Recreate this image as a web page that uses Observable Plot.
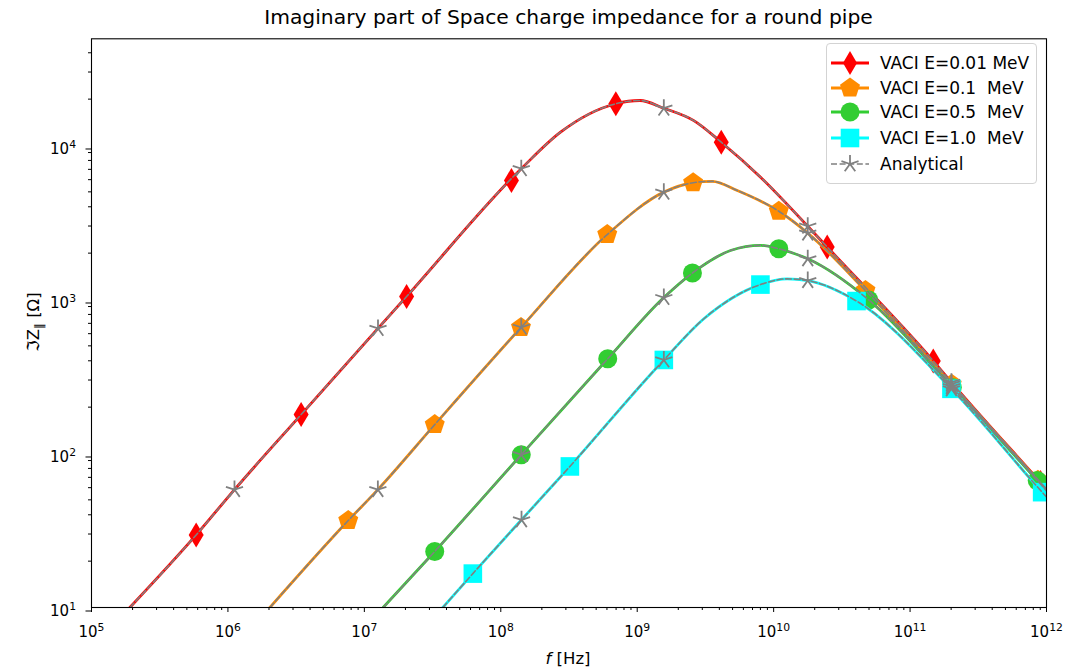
<!DOCTYPE html>
<html><head><meta charset="utf-8">
<script src="https://cdn.jsdelivr.net/npm/d3@7"></script>
<script src="https://cdn.jsdelivr.net/npm/@observablehq/plot@0.6"></script>
<style>
body{margin:0;background:#fff;font-family:"DejaVu Sans",sans-serif;color:#000;}
#wrap{position:relative;width:1066px;height:669px;overflow:hidden;}
#title{height:34px;line-height:34px;font-size:20.3px;text-align:center;padding-left:71px;box-sizing:border-box;width:1066px;white-space:nowrap;}
#xlabel{position:absolute;left:568px;top:658px;transform:translate(-50%,-50%);font-size:16.5px;white-space:nowrap;}
#ylabel{position:absolute;left:35px;top:322px;transform:translate(-50%,-50%) rotate(-90deg);font-size:16.5px;white-space:nowrap;}
#legend{position:absolute;left:826px;top:43px;width:211px;height:141px;box-sizing:border-box;border:1px solid #d3d3d3;border-radius:4px;background:rgba(255,255,255,0.85);}
.row{position:absolute;left:0;height:24px;width:209px;}
.row svg{position:absolute;left:4px;top:0;}
.row span{position:absolute;left:53px;top:0;line-height:24px;font-size:17px;white-space:pre;}
</style></head><body>
<div id="wrap">
<div id="title">Imaginary part of Space charge impedance for a round pipe</div>
<div id="chart"></div>
<div id="xlabel"><i>f</i> [Hz]</div>
<div id="ylabel">ℑZ<sub style="font-size:0.7em">∥</sub> [Ω]</div>
<div id="legend"></div>
</div>
<script>
// ---- data ----
const xTicks = [1e5, 1e6, 1e7, 1e8, 1e9, 1e10, 1e11, 1e12];
const yTicks = [1e1, 1e2, 1e3, 1e4];
const labels = ["VACI E=0.01 MeV", "VACI E=0.1  MeV", "VACI E=0.5  MeV", "VACI E=1.0  MeV", "Analytical"];
const colors = ["#ff0000", "#ff8c00", "#32cd32", "#00ffff", "#808080"];

// E = 0.01 MeV
const redLineF = [1.91e5, 5.85e5, 1.117e6, 3.44e6, 1.259e7, 2.04e7, 1.413e8, 2.74e8, 6.97e8, 1.047e9, 1.567e9, 2.60e9, 4.13e9, 8.02e9, 1.778e10, 2.47e10, 1.479e11, 2.01e11, 9.04e11, 1e12];
const redLineZ = [10, 29.6, 58.3, 179, 649, 1045, 7070, 12200, 18670, 19600, 17460, 14500, 10500, 6220, 2990, 2190, 399, 290, 64.9, 58.7];
const redMarkF = [5.85e5, 3.44e6, 2.04e7, 1.197e8, 6.97e8, 4.13e9, 2.47e10, 1.479e11, 9.04e11];
const redMarkZ = [29.6, 179, 1045, 5930, 18670, 10500, 2190, 399, 64.9];
const redStarF = [1.117e6, 1.259e7, 1.413e8, 1.567e9, 1.778e10, 2.01e11];
const redStarZ = [58.3, 649, 7070, 17460, 2990, 290];

// E = 0.1 MeV
const orangeLineF = [2.03e6, 7.62e6, 1.256e7, 3.28e7, 1.406e8, 6.03e8, 1.567e9, 2.57e9, 3.55e9, 5.41e9, 1.091e10, 1.778e10, 4.71e10, 2.01e11, 8.65e11, 1e12];
const orangeLineZ = [10, 36.7, 58.3, 154, 658, 2640, 4980, 5730, 5850, 5100, 3740, 2700, 1143, 282, 67, 58];
const orangeMarkF = [7.62e6, 3.28e7, 1.406e8, 6.03e8, 2.57e9, 1.091e10, 4.71e10, 2.02e11, 8.65e11];
const orangeMarkZ = [36.7, 154, 658, 2640, 5730, 3740, 1143, 282, 67];
const orangeStarF = [1.256e7, 1.413e8, 1.567e9, 1.778e10, 2.01e11];
const orangeStarZ = [58.3, 660, 4980, 2700, 282];

// E = 0.5 MeV
const greenLineF = [1.374e7, 3.28e7, 1.413e8, 6.08e8, 1.567e9, 2.54e9, 4.83e9, 8.02e9, 1.091e10, 1.778e10, 4.98e10, 2.01e11, 8.55e11, 1e12];
const greenLineZ = [10, 23.1, 98.2, 412, 1030, 1486, 2080, 2245, 2134, 1837, 993, 272, 66.8, 57.2];
const greenMarkF = [3.28e7, 1.413e8, 6.08e8, 2.54e9, 1.091e10, 4.98e10, 2.04e11, 8.55e11];
const greenMarkZ = [23.1, 98.2, 412, 1486, 2134, 993, 268, 66.8];
const greenStarF = [1.413e8, 1.567e9, 1.778e10, 2.01e11];
const greenStarZ = [98.2, 1030, 1837, 272];

// E = 1.0 MeV
const cyanLineF = [3.76e7, 6.24e7, 1.419e8, 3.21e8, 1.567e9, 3.08e9, 8.0e9, 1.256e10, 1.778e10, 4.05e10, 2.01e11, 9.29e11, 1e12];
const cyanLineZ = [10, 16.6, 37.1, 82.4, 405, 750, 1250, 1361, 1327, 977, 263, 56.1, 52.2];
const cyanMarkF = [6.24e7, 3.21e8, 1.567e9, 8.0e9, 4.05e10, 2.01e11, 9.29e11];
const cyanMarkZ = [16.6, 82.4, 405, 1250, 977, 263, 56.1];
const cyanStarF = [1.419e8, 1.567e9, 1.778e10, 2.01e11];
const cyanStarZ = [37.1, 405, 1327, 263];

// ---- marker shapes ----
const rOf = s => Math.sqrt(s / Math.PI);
const thinDiamond = {draw(c, s){const r=rOf(s); c.moveTo(0,-r); c.lineTo(r*0.6,0); c.lineTo(0,r); c.lineTo(-r*0.6,0); c.closePath();}};
const pentagon = {draw(c, s){const r=rOf(s); for(let k=0;k<5;k++){const a=-Math.PI/2+k*2*Math.PI/5; const x=r*Math.cos(a), y=r*Math.sin(a); k?c.lineTo(x,y):c.moveTo(x,y);} c.closePath();}};
const square = {draw(c, s){const r=rOf(s); c.moveTo(-r,-r); c.lineTo(r,-r); c.lineTo(r,r); c.lineTo(-r,r); c.closePath();}};
const circle = {draw(c, s){const r=rOf(s); c.moveTo(r,0); c.arc(0,0,r,0,2*Math.PI);}};
const aster = {draw(c, s){const r=rOf(s); for(let k=0;k<5;k++){const a=-Math.PI/2+k*2*Math.PI/5; c.moveTo(0,0); c.lineTo(r*Math.cos(a), r*Math.sin(a));}}};

const series = [
  {lf: redLineF, lz: redLineZ, mf: redMarkF, mz: redMarkZ, sf: redStarF, sz: redStarZ, color: colors[0], sym: thinDiamond, r: 12.5},
  {lf: orangeLineF, lz: orangeLineZ, mf: orangeMarkF, mz: orangeMarkZ, sf: orangeStarF, sz: orangeStarZ, color: colors[1], sym: pentagon, r: 10.5},
  {lf: greenLineF, lz: greenLineZ, mf: greenMarkF, mz: greenMarkZ, sf: greenStarF, sz: greenStarZ, color: colors[2], sym: circle, r: 9.5},
  {lf: cyanLineF, lz: cyanLineZ, mf: cyanMarkF, mz: cyanMarkZ, sf: cyanStarF, sz: cyanStarZ, color: colors[3], sym: square, r: 9.3},
];
const rows = (F, Z) => F.map((f, i) => ({f, z: Z[i]}));

const minorX = d3.scaleLog().domain([1e5, 1e12]).ticks().filter(v => !xTicks.includes(v));
const minorY = d3.scaleLog().domain([10, 4.93e4]).ticks().filter(v => !yTicks.includes(v));

const marks = [];
for (const s of series) {
  marks.push(Plot.line(rows(s.lf, s.lz), {x: "f", y: "z", stroke: s.color, strokeWidth: 2.8, curve: "monotone-x", clip: true}));
  marks.push(Plot.dot(rows(s.mf, s.mz), {x: "f", y: "z", fill: s.color, stroke: "none", symbol: s.sym, r: s.r, clip: true}));
}
for (const s of series) {
  marks.push(Plot.line(rows(s.lf, s.lz), {x: "f", y: "z", stroke: colors[4], strokeWidth: 1.6, strokeDasharray: "6,2.6", curve: "monotone-x", clip: true}));
  marks.push(Plot.dot(rows(s.sf, s.sz), {x: "f", y: "z", fill: "none", stroke: colors[4], strokeWidth: 1.8, symbol: aster, r: 9, clip: true}));
}

const fmt = d => "10^" + Math.round(Math.log10(d));
const plot = Plot.plot({
  width: 1066, height: 635,
  marginLeft: 91, marginRight: 20, marginTop: 4.3, marginBottom: 62,
  x: {type: "log", domain: [1e5, 1e12], label: null},
  y: {type: "log", domain: [10, 4.93e4], label: null},
  style: {fontFamily: "DejaVu Sans", fontSize: "15px", color: "black", background: "white", overflow: "visible"},
  marks: [
    Plot.axisX(minorX, {tickSize: 3, tickFormat: () => "", label: null}),
    Plot.axisX(xTicks, {tickSize: 5, tickPadding: 14, tickFormat: fmt, label: null}),
    Plot.axisY(minorY, {tickSize: 3, tickFormat: () => "", label: null}),
    Plot.axisY(yTicks, {tickSize: 5.5, tickPadding: 10, tickFormat: fmt, dy: 3.5, label: null}),
    ...marks,
    Plot.frame({stroke: "black", strokeWidth: 1.1})
  ]
});
d3.select(plot).selectAll("text").each(function() {
  const m = /^10\^(\d+)$/.exec(this.textContent);
  if (m) {
    const t = d3.select(this);
    t.text("10");
    t.append("tspan").attr("dy", "-0.55em").attr("font-size", "0.72em").text(m[1]);
  }
});
document.getElementById("chart").appendChild(plot);

// ---- legend ----
const legendSym = [
  '<path d="M19,0 L26,12 L19,24 L12,12 Z" fill="#ff0000"/>',
  (() => { let p = ""; for (let k=0;k<5;k++){const a=-Math.PI/2+k*2*Math.PI/5; p += (k?"L":"M") + (19+10.5*Math.cos(a)).toFixed(2) + "," + (12+10.5*Math.sin(a)).toFixed(2);} return '<path d="'+p+'Z" fill="#ff8c00"/>'; })(),
  '<circle cx="19" cy="12" r="9.5" fill="#32cd32"/>',
  '<rect x="9.7" y="2.7" width="18.6" height="18.6" fill="#00ffff"/>',
  (() => { let p = ""; for (let k=0;k<5;k++){const a=-Math.PI/2+k*2*Math.PI/5; p += "M19,12L" + (19+9*Math.cos(a)).toFixed(2) + "," + (12+9*Math.sin(a)).toFixed(2);} return '<path d="'+p+'" fill="none" stroke="#808080" stroke-width="1.8"/>'; })()
];
const leg = document.getElementById("legend");
const rowTops = [6.7, 31.7, 56, 81.7, 107.7];
labels.forEach((lab, i) => {
  const dash = i === 4 ? ' stroke-dasharray="6,2.6"' : '';
  const sw = i === 4 ? 1.6 : 2.8;
  const div = document.createElement("div");
  div.className = "row";
  div.style.top = rowTops[i] + "px";
  div.innerHTML = '<svg width="40" height="24"><line x1="0" y1="12" x2="38" y2="12" stroke="' + colors[i] + '" stroke-width="' + sw + '"' + dash + '/>' + legendSym[i] + '</svg><span></span>';
  div.querySelector("span").textContent = lab;
  leg.appendChild(div);
});
</script>
</body></html>
